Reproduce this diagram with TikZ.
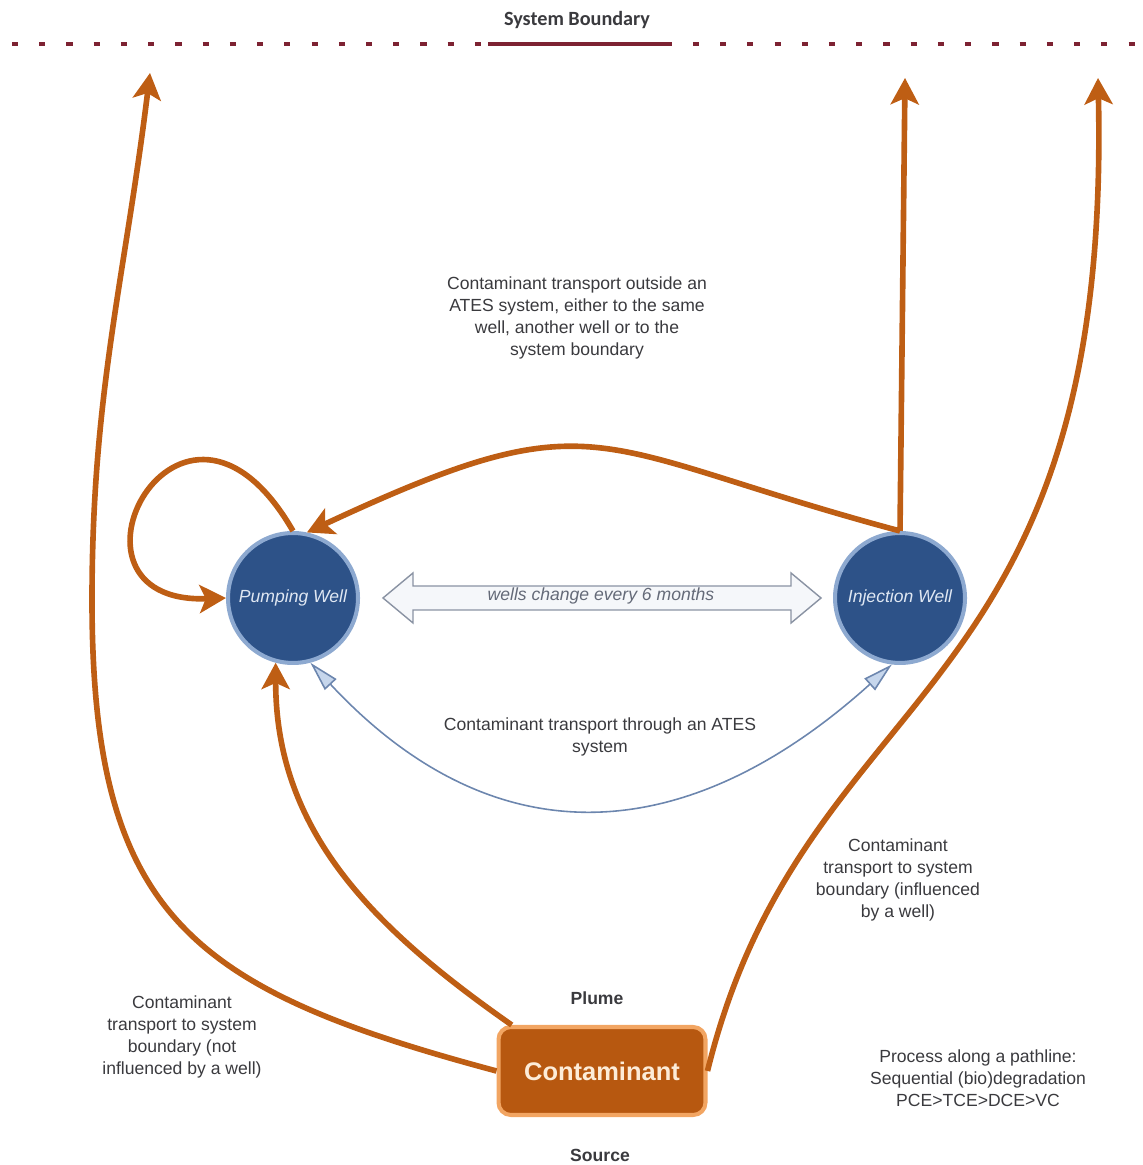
\documentclass[tikz,border=0pt]{standalone}
\usepackage{xcolor}
\usepackage{fontspec}
\setmainfont{Liberation Sans}
\newfontfamily\boundaryfont{Carlito}
\usetikzlibrary{arrows.meta}

\definecolor{plume}{RGB}{190,94,20}
\definecolor{plumefill}{RGB}{183,88,16}
\definecolor{plumerim}{RGB}{242,165,98}
\definecolor{plumetext}{RGB}{253,236,216}
\definecolor{wellfill}{RGB}{45,82,136}
\definecolor{wellrim}{RGB}{141,169,208}
\definecolor{welltext}{RGB}{224,232,243}
\definecolor{atesline}{RGB}{108,134,174}
\definecolor{ateshead}{RGB}{198,214,236}
\definecolor{swapfill}{RGB}{245,247,250}
\definecolor{swapline}{RGB}{138,147,163}
\definecolor{swaptext}{RGB}{100,106,120}
\definecolor{boundary}{RGB}{125,34,50}
\definecolor{labeltext}{RGB}{58,58,62}

\tikzset{
  well/.style={circle, draw=wellrim, line width=2.3pt, fill=wellfill, minimum size=2.6cm, inner sep=0pt, text=welltext, font=\fontsize{10}{12}\selectfont\itshape},
  contbox/.style={rectangle, rounded corners=7pt, draw=plumerim, line width=2.3pt, fill=plumefill, minimum width=4.14cm, minimum height=1.76cm, text=plumetext, font=\fontsize{14.5}{17}\selectfont\bfseries},
  remark/.style={align=center, text=labeltext, font=\fontsize{10}{12.4}\selectfont},
  stagelabel/.style={text=labeltext, font=\fontsize{10}{12}\selectfont\bfseries},
  transport/.style={draw=plume, line width=3.2pt, -{Stealth[length=15pt,width=16pt,inset=3.5pt]}},
  through/.style={draw=atesline, line width=0.9pt, {Triangle[length=17pt,width=9pt,fill=ateshead]}-{Triangle[length=17pt,width=9pt,fill=ateshead]}}
}

\begin{document}
\begin{tikzpicture}[x=0.02cm, y=0.02cm]
	\useasboundingbox (0,0) rectangle (1142,1165);

	% Nodes
	\node[well] (pump) at (293,567) {Pumping Well};
	\node[well] (inj) at (900,567) {Injection Well};
	\node[contbox] (cont) at (602,94) {Contaminant};
	\node[stagelabel] (plume) at (597,167) {Plume};
	\node[stagelabel] (src) at (600,10) {Source};
	\node[text=labeltext, font=\boundaryfont\fontsize{11.5}{13}\selectfont\bfseries] (sysb) at (577,1145) {System Boundary};

	% System boundary
	\coordinate (bl) at (12,1121);
	\coordinate (br) at (1142,1121);
	\coordinate (sa) at (488,1121);
	\coordinate (sb) at (670,1121);
	\draw[boundary, line width=2pt, dash pattern=on 3.5pt off 12pt] (bl) -- (br);
	\draw[boundary, line width=2.4pt] (sa) -- (sb);

	% Ends at the boundary
	\coordinate (outL) at (150,1092);
	\coordinate (outM) at (905,1087);
	\coordinate (outR) at (1098,1087);
	\coordinate (viaL) at (92,565);

	% Wells swap
	\draw[swapline, fill=swapfill, line width=0.8pt] (383,567) -- (413,592) -- (413,579) -- (791,579) -- (791,592) -- (821,567) -- (791,542) -- (791,555) -- (413,555) -- (413,542) -- cycle;
	\node[text=swaptext, font=\fontsize{10}{12}\selectfont\itshape] (swap) at (601,569) {wells change every 6 months};

	% Edges
	\draw[transport] (cont.west) to[out=165, in=-90, looseness=1.3] (viaL) to[out=90, in=-97] (outL);
	\draw[transport] (cont.153) to[out=145, in=-90] (pump.-105);
	\draw[transport] (cont.east) .. controls (805,490) and (1112,450) .. (outR);
	\draw[transport] (inj.north) -- (outM);
	\draw[transport] (inj.north) to[out=165, in=25, looseness=1.4] (pump.78);
	\draw[transport] (pump.north) .. controls (180,830) and (40,560) .. (pump.west);
	\draw[through] (pump.-75) to[out=-47, in=-138, looseness=1.2] (inj.-97);

	% Labels
	\node[remark] (outside) at (577,847) {Contaminant transport outside an\\ATES system, either to the same\\well, another well or to the\\system boundary};
	\node[remark] (inside) at (600,428) {Contaminant transport through an ATES\\system};
	\node[remark] (infl) at (898,285) {Contaminant\\transport to system\\boundary (influenced\\by a well)};
	\node[remark] (noinfl) at (182,128) {Contaminant\\transport to system\\boundary (not\\influenced by a well)};
	\node[remark] (proc) at (978,87) {Process along a pathline:\\Sequential (bio)degradation\\PCE>TCE>DCE>VC};
\end{tikzpicture}
\end{document}
